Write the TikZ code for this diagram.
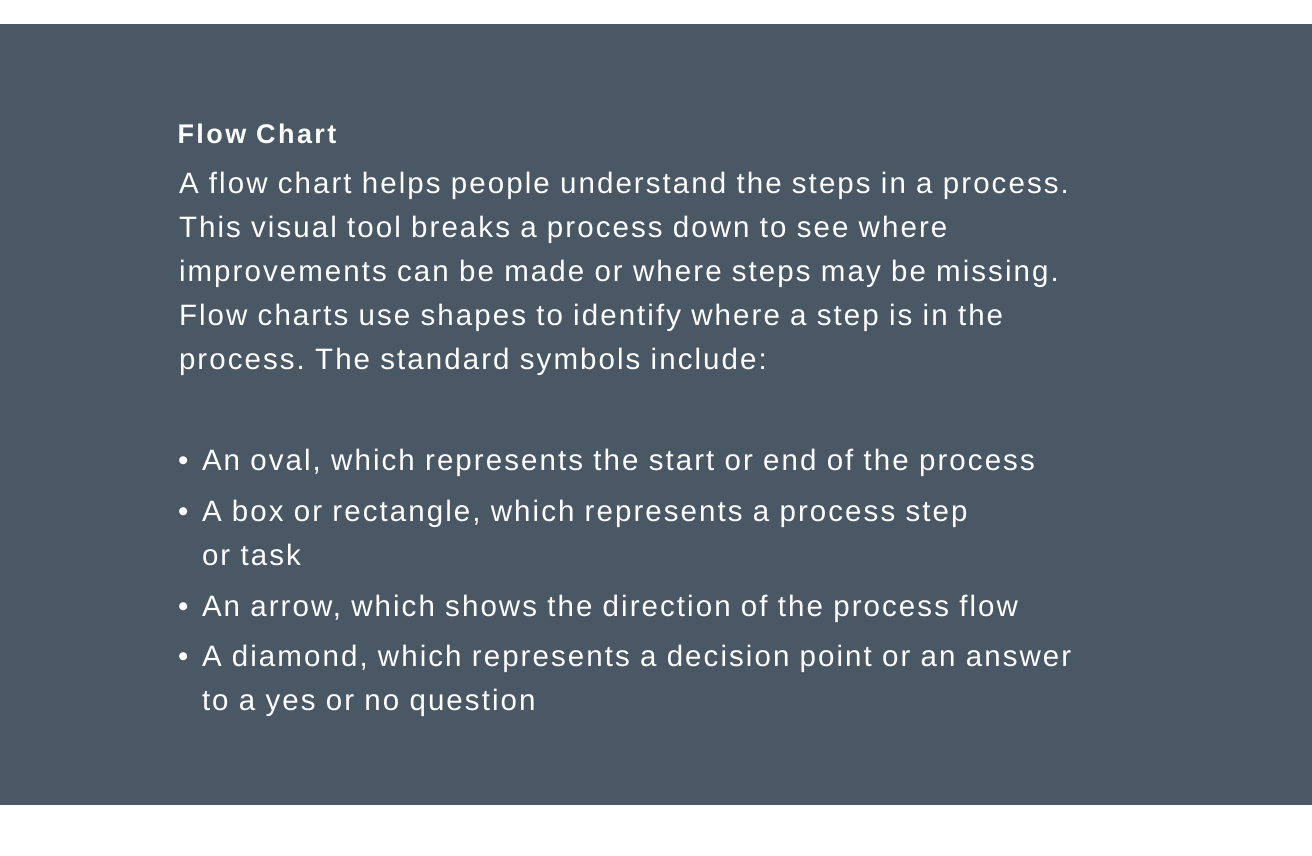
\documentclass[tikz,border=0pt]{standalone}
\usepackage{fontspec}
\setmainfont{Liberation Sans}[LetterSpace=7]
\newfontfamily\titlefont{Liberation Sans Bold}[LetterSpace=9]
\definecolor{slate}{RGB}{74,88,102}
\frenchspacing
\begin{document}
\begin{tikzpicture}[x=1pt,y=-1pt,
  line/.style={anchor=base west,inner sep=0pt,outer sep=0pt,text=white,
    font=\fontsize{29.5}{44}\selectfont},
  titleline/.style={anchor=base west,inner sep=0pt,outer sep=0pt,text=white,
    font=\titlefont\fontsize{27}{32}\selectfont},
  dot/.style={line}]
\useasboundingbox (0,0) rectangle (1312,855);
\fill[white] (0,0) rectangle (1312,855);
\fill[slate] (0,24) rectangle (1312,805);
\node[titleline] (t) at (177.5,143) {Flow Chart};
\node[line] (l1) at (179,193) {A flow chart helps people understand the steps in a process.};
\node[line] (l2) at (179,237) {This visual tool breaks a process down to see where};
\node[line] (l3) at (179,281) {improvements can be made or where steps may be missing.};
\node[line] (l4) at (179,325) {Flow charts use shapes to identify where a step is in the};
\node[line] (l5) at (179,369) {process. The standard symbols include:};
\node[dot] (d1) at (178,470) {•};
\node[line] (b1) at (202,470) {An oval, which represents the start or end of the process};
\node[dot] (d2) at (178,521) {•};
\node[line] (b2) at (202,521) {A box or rectangle, which represents a process step};
\node[line] (b2b) at (202,565) {or task};
\node[dot] (d3) at (178,616) {•};
\node[line] (b3) at (202,616) {An arrow, which shows the direction of the process flow};
\node[dot] (d4) at (178,666) {•};
\node[line] (b4) at (202,666) {A diamond, which represents a decision point or an answer};
\node[line] (b4b) at (202,710) {to a yes or no question};
\end{tikzpicture}
\end{document}
